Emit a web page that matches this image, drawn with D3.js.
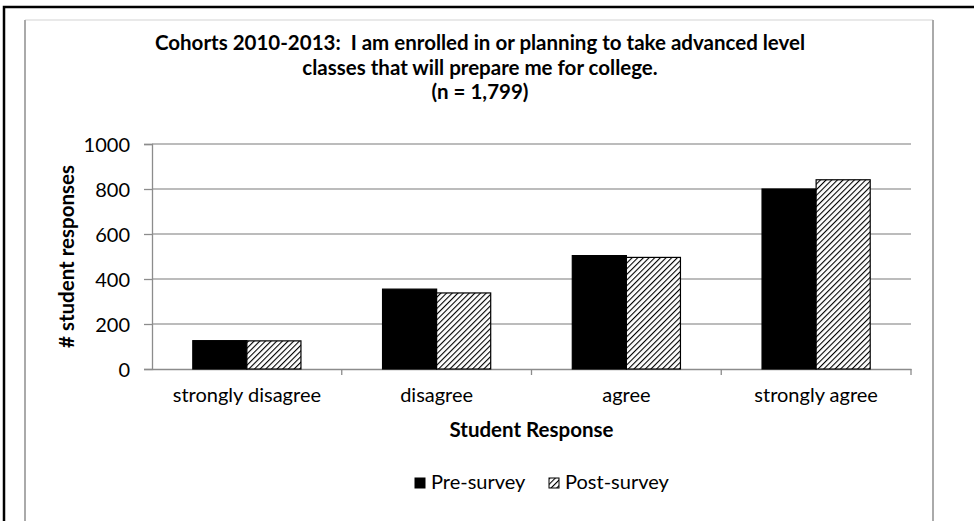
<!DOCTYPE html>
<html><head><meta charset="utf-8">
<script src="https://cdn.jsdelivr.net/npm/d3@7/dist/d3.min.js"></script>
<style>body{margin:0;background:#fff}svg{display:block}text{white-space:pre}</style>
</head><body>
<svg id="c" width="974" height="521"></svg>
<script>
const categories = ["strongly disagree", "disagree", "agree", "strongly agree"];
const seriesNames = ["Pre-survey", "Post-survey"];
const preSurvey = [126, 355, 504, 800];
const postSurvey = [125, 338, 496, 841];
const yTicks = [0, 200, 400, 600, 800, 1000];
const titleLines = ["Cohorts 2010-2013:  I am enrolled in or planning to take advanced level",
  "classes that will prepare me for college.", "(n = 1,799)"];

const svg = d3.select("#c");
const FONT = "Lato, 'Open Sans', sans-serif";

const defs = svg.append("defs");
const pat = defs.append("pattern").attr("id","hatch").attr("patternUnits","userSpaceOnUse")
  .attr("width",4).attr("height",4).attr("patternTransform","rotate(45)");
pat.append("rect").attr("width",4).attr("height",4).attr("fill","#fff");
pat.append("line").attr("x1",0).attr("y1",0).attr("x2",0).attr("y2",4)
  .attr("stroke","#000").attr("stroke-width",2.2);

// outer frames
svg.append("path").attr("d","M4,521 L4,7 L974,7").attr("fill","none").attr("stroke","#000").attr("stroke-width",2.5);
svg.append("line").attr("x1",25).attr("x2",933).attr("y1",20).attr("y2",20).attr("stroke","#e2e2e2").attr("stroke-width",1.5);
svg.append("line").attr("x1",25).attr("x2",25).attr("y1",20).attr("y2",521).attr("stroke","#aaa").attr("stroke-width",2);
svg.append("line").attr("x1",933).attr("x2",933).attr("y1",20).attr("y2",521).attr("stroke","#aaa").attr("stroke-width",2);

const m = {left:152, right:911, top:144, bottom:369};
const x0 = d3.scaleBand().domain(categories).range([m.left, m.right]).paddingInner(0.43).paddingOuter(0.215);
const x1 = d3.scaleBand().domain(seriesNames).range([0, x0.bandwidth()]);
const y = d3.scaleLinear().domain([0,1000]).range([m.bottom, m.top]);

// gridlines
svg.append("g").selectAll("line").data(yTicks.filter(d=>d>0)).join("line")
  .attr("x1",m.left).attr("x2",m.right).attr("y1",d=>y(d)).attr("y2",d=>y(d))
  .attr("stroke","#a6a6a6").attr("stroke-width",1.3);

// y axis
const ya = svg.append("g").attr("transform",`translate(${m.left},0)`)
  .call(d3.axisLeft(y).tickValues(yTicks).tickFormat(d3.format("d")).tickSize(8).tickPadding(14));
ya.select(".domain").attr("stroke","#8c8c8c").attr("stroke-width",1.3);
ya.selectAll(".tick line").attr("stroke","#8c8c8c").attr("stroke-width",1.3);
ya.selectAll("text").attr("font-family",FONT).attr("font-size",20).attr("fill","#000").attr("dy","0.35em");

// x axis
const xa = svg.append("g").attr("transform",`translate(0,${m.bottom})`)
  .call(d3.axisBottom(x0).tickSize(0).tickPadding(0));
xa.select(".domain").attr("stroke","#8c8c8c").attr("stroke-width",1.3);
xa.selectAll("text").attr("font-family",FONT).attr("font-size",20).attr("fill","#000").attr("y",33).attr("dy",0);
const bounds = d3.range(categories.length+1).map(i => m.left + i*(m.right-m.left)/categories.length);
xa.append("g").selectAll("line").data(bounds.slice(1)).join("line")
  .attr("x1",d=>d).attr("x2",d=>d).attr("y1",0).attr("y2",6).attr("stroke","#8c8c8c").attr("stroke-width",1.3);

// bars
const rows = categories.map((c,i)=>({cat:c, vals:[{s:seriesNames[0],v:preSurvey[i]},{s:seriesNames[1],v:postSurvey[i]}]}));
const g = svg.append("g").selectAll("g").data(rows).join("g").attr("transform",d=>`translate(${x0(d.cat)},0)`);
g.selectAll("rect").data(d=>d.vals).join("rect")
  .attr("x",d=>x1(d.s)).attr("width",x1.bandwidth())
  .attr("y",d=>y(d.v)).attr("height",d=>y(0)-y(d.v))
  .attr("fill",d=>d.s===seriesNames[0]?"#000":"url(#hatch)")
  .attr("stroke","#000").attr("stroke-width",1.2);

// titles
svg.append("g").selectAll("text").data(titleLines).join("text")
  .attr("x",480).attr("y",(d,i)=>50+i*24.5)
  .attr("text-anchor","middle").attr("font-family",FONT).attr("font-weight","bold").attr("font-size",20.5).attr("fill","#000")
  .text(d=>d);

svg.append("text").attr("transform",`translate(74,${(m.top+m.bottom)/2}) rotate(-90)`)
  .attr("text-anchor","middle").attr("font-family",FONT).attr("font-weight","bold").attr("font-size",20.5).text("# student responses");
svg.append("text").attr("x",(m.left+m.right)/2).attr("y",437).attr("text-anchor","middle")
  .attr("font-family",FONT).attr("font-weight","bold").attr("font-size",20.5).text("Student Response");

// legend
const legX = [415, 549];
const lg = svg.append("g").selectAll("g").data(seriesNames).join("g").attr("transform",(d,i)=>`translate(${legX[i]},478)`);
lg.append("rect").attr("width",10).attr("height",10).attr("fill",(d,i)=>i===0?"#000":"url(#hatch)").attr("stroke","#000").attr("stroke-width",1);
lg.append("text").attr("x",16).attr("y",11).attr("font-family",FONT).attr("font-size",20).text(d=>d);
</script>
</body></html>
